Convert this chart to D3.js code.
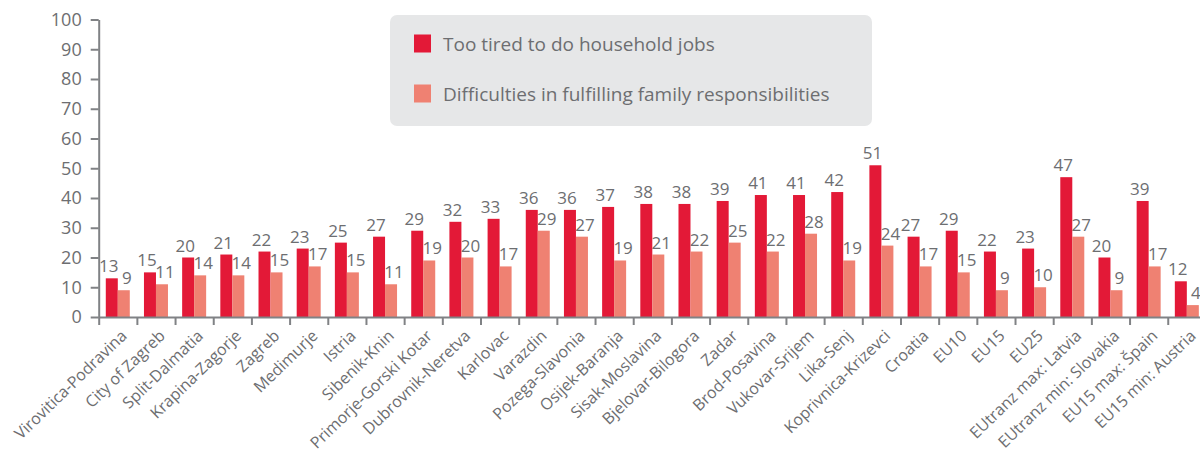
<!DOCTYPE html>
<html>
<head>
<meta charset="utf-8">
<script src="https://cdn.jsdelivr.net/npm/d3@7"></script>
<style>
  html, body { margin: 0; padding: 0; background: #ffffff; }
  svg { display: block; font-family: "Open Sans", "Noto Sans", sans-serif; }
</style>
</head>
<body>
<svg id="chart" width="1200" height="454"></svg>
<script>
// Regions of Croatia and EU reference groups
const categories = [
  "Virovitica-Podravina", "City of Zagreb", "Split-Dalmatia", "Krapina-Zagorje",
  "Zagreb", "Medimurje", "Istria", "Sibenik-Knin", "Primorje-Gorski Kotar",
  "Dubrovnik-Neretva", "Karlovac", "Varazdin", "Pozega-Slavonia", "Osijek-Baranja",
  "Sisak-Moslavina", "Bjelovar-Bilogora", "Zadar", "Brod-Posavina", "Vukovar-Srijem",
  "Lika-Senj", "Koprivnica-Krizevci", "Croatia", "EU10", "EU15", "EU25",
  "EUtranz max: Latvia", "EUtranz min: Slovakia", "EU15 max: Špain", "EU15 min: Austria"
];

// Share of respondents (%)
const tooTired = [13, 15, 20, 21, 22, 23, 25, 27, 29, 32, 33, 36, 36, 37, 38, 38, 39, 41, 41, 42, 51, 27, 29, 22, 23, 47, 20, 39, 12];
const familyDifficulties = [9, 11, 14, 14, 15, 17, 15, 11, 19, 20, 17, 29, 27, 19, 21, 22, 25, 22, 28, 19, 24, 17, 15, 9, 10, 27, 9, 17, 4];

const seriesNames = ["Too tired to do household jobs", "Difficulties in fulfilling family responsibilities"];
const seriesColors = ["#e31937", "#ef8172"];
const yTicks = [0, 10, 20, 30, 40, 50, 60, 70, 80, 90, 100];

const textColor = "#6d6e71";
const axisColor = "#808285";

const svg = d3.select("#chart");

const plotLeft = 98.7, plotBottom = 317, plotTop = 19.5;
const step = 38.18;
const plotRight = plotLeft + step * categories.length;

const x = d3.scaleBand()
  .domain(categories)
  .range([plotLeft, plotRight])
  .paddingInner(0.3714)
  .paddingOuter(0.1857);

const xSub = d3.scaleBand()
  .domain([0, 1])
  .range([0, x.bandwidth()]);

const y = d3.scaleLinear().domain([0, 100]).range([plotBottom, plotTop]);

// Category boundaries carry the x ticks
const boundary = d3.scaleLinear().domain([0, categories.length]).range([plotLeft, plotRight]);

const rows = categories.map((c, i) => ({ c, vals: [tooTired[i], familyDifficulties[i]] }));

// Bars
const groups = svg.append("g").selectAll("g")
  .data(rows)
  .join("g")
  .attr("transform", d => `translate(${x(d.c)},0)`);

groups.selectAll("rect")
  .data(d => d.vals.map((v, k) => ({ v, k })))
  .join("rect")
  .attr("x", d => xSub(d.k))
  .attr("width", xSub.bandwidth())
  .attr("y", d => y(d.v))
  .attr("height", d => y(0) - y(d.v))
  .attr("fill", d => seriesColors[d.k]);

// Value labels
groups.selectAll("text")
  .data(d => d.vals.map((v, k) => ({ v, k })))
  .join("text")
  .attr("x", d => xSub(d.k) + xSub.bandwidth() / 2 + (d.k === 0 ? -3 : 3))
  .attr("y", d => y(d.v) - 6)
  .attr("text-anchor", "middle")
  .attr("font-size", 17)
  .attr("fill", textColor)
  .text(d => d.v);

// Y axis
const yAxis = svg.append("g")
  .attr("transform", `translate(${plotLeft},0)`)
  .call(d3.axisLeft(y).tickValues(yTicks).tickSize(8).tickPadding(9).tickSizeOuter(0));
yAxis.selectAll("path, line").attr("stroke", axisColor).attr("stroke-width", 2);
yAxis.selectAll("text")
  .attr("fill", textColor)
  .attr("font-size", 18)
  .attr("font-family", "'Open Sans', sans-serif");

// X axis with ticks at category boundaries
const xAxis = svg.append("g")
  .attr("transform", `translate(0,${plotBottom})`)
  .call(d3.axisBottom(boundary)
    .tickValues(d3.range(0, categories.length + 1))
    .tickFormat("")
    .tickSize(8)
    .tickSizeOuter(0));
xAxis.selectAll("path, line").attr("stroke", axisColor).attr("stroke-width", 2);

// Rotated category labels
svg.append("g").selectAll("text")
  .data(categories)
  .join("text")
  .attr("transform", c => `translate(${x(c) + x.bandwidth() / 2 + 10},${plotBottom + 20}) rotate(-44)`)
  .attr("text-anchor", "end")
  .attr("font-size", 16)
  .attr("fill", textColor)
  .text(c => c);

// Legend
const legend = svg.append("g");
legend.append("rect")
  .attr("x", 390).attr("y", 15)
  .attr("width", 482).attr("height", 111)
  .attr("rx", 7)
  .attr("fill", "#e6e7e8");

const legendRows = legend.selectAll("g")
  .data(seriesNames)
  .join("g")
  .attr("transform", (d, i) => `translate(414,${34.5 + i * 50})`);
legendRows.append("rect")
  .attr("width", 17).attr("height", 18)
  .attr("fill", (d, i) => seriesColors[i]);
legendRows.append("text")
  .attr("x", 29).attr("y", 16.5)
  .attr("font-size", 19)
  .attr("fill", textColor)
  .text(d => d);
</script>
</body>
</html>
